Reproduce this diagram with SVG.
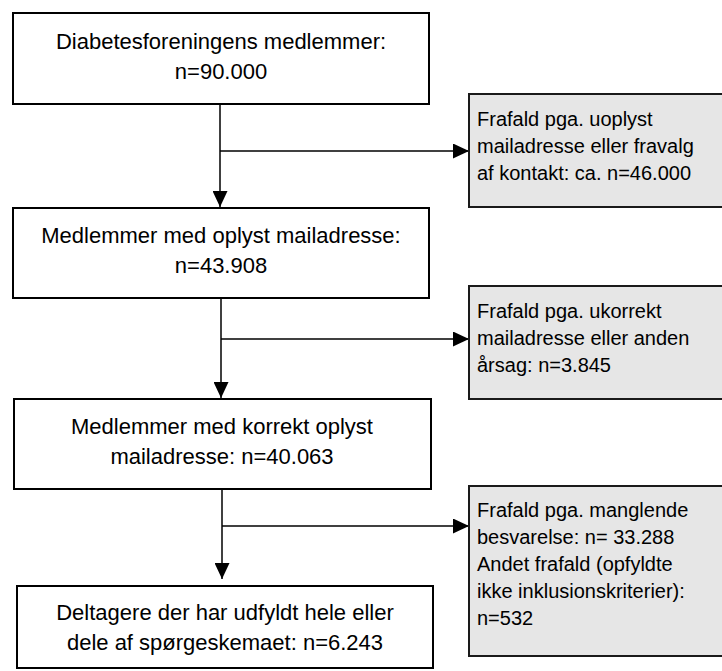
<svg xmlns="http://www.w3.org/2000/svg" width="722" height="671" viewBox="0 0 722 671">
<style>
.box{fill:#ffffff;stroke:#000000;stroke-width:2}
.drop{fill:#e6e6e6;stroke:#1a1a1a;stroke-width:2}
.t{font-family:"Liberation Sans",Arial,sans-serif;font-size:22px;fill:#000000;text-anchor:middle}
.g{font-family:"Liberation Sans",Arial,sans-serif;font-size:20px;fill:#000000}
.c{fill:none;stroke:#000000;stroke-width:1.5}
</style>
<defs>
<marker id="ah" markerUnits="userSpaceOnUse" markerWidth="16" markerHeight="15" refX="16" refY="7.5" orient="auto">
<path d="M0,0 L16,7.5 L0,15 Z" fill="#000000"/>
</marker>
</defs>
<rect width="722" height="671" fill="#ffffff"/>
<g id="connectors">
<line class="c" x1="220" y1="104" x2="220" y2="207" marker-end="url(#ah)"/>
<line class="c" x1="220" y1="151" x2="469" y2="151" marker-end="url(#ah)"/>
<line class="c" x1="221" y1="298" x2="221" y2="398" marker-end="url(#ah)"/>
<line class="c" x1="221" y1="339" x2="469" y2="339" marker-end="url(#ah)"/>
<line class="c" x1="222" y1="489" x2="222" y2="579" marker-end="url(#ah)"/>
<line class="c" x1="222" y1="526" x2="469" y2="526" marker-end="url(#ah)"/>
</g>
<g id="n1">
<rect class="box" x="13" y="13" width="416" height="91"/>
<text class="t" x="221" y="49">Diabetesforeningens medlemmer:</text>
<text class="t" x="221" y="79">n=90.000</text>
</g>
<g id="d1">
<rect class="drop" x="469" y="94" width="260" height="113"/>
<text class="g" x="477" y="126">Frafald pga. uoplyst</text>
<text class="g" x="477" y="153">mailadresse eller fravalg</text>
<text class="g" x="477" y="180">af kontakt: ca. n=46.000</text>
</g>
<g id="n2">
<rect class="box" x="13" y="208" width="416" height="90"/>
<text class="t" x="221" y="243">Medlemmer med oplyst mailadresse:</text>
<text class="t" x="221" y="273">n=43.908</text>
</g>
<g id="d2">
<rect class="drop" x="469" y="286" width="260" height="113"/>
<text class="g" x="477" y="318">Frafald pga. ukorrekt</text>
<text class="g" x="477" y="345">mailadresse eller anden</text>
<text class="g" x="477" y="372">årsag: n=3.845</text>
</g>
<g id="n3">
<rect class="box" x="14" y="399" width="417" height="90"/>
<text class="t" x="222" y="434">Medlemmer med korrekt oplyst</text>
<text class="t" x="222" y="464">mailadresse: n=40.063</text>
</g>
<g id="d3">
<rect class="drop" x="469" y="486" width="260" height="170"/>
<text class="g" x="477" y="517">Frafald pga. manglende</text>
<text class="g" x="477" y="544">besvarelse: n= 33.288</text>
<text class="g" x="477" y="571">Andet frafald (opfyldte</text>
<text class="g" x="477" y="598">ikke inklusionskriterier):</text>
<text class="g" x="477" y="625">n=532</text>
</g>
<g id="n4">
<rect class="box" x="17" y="586" width="416" height="82"/>
<text class="t" x="225" y="620">Deltagere der har udfyldt hele eller</text>
<text class="t" x="225" y="650">dele af spørgeskemaet: n=6.243</text>
</g>
</svg>
